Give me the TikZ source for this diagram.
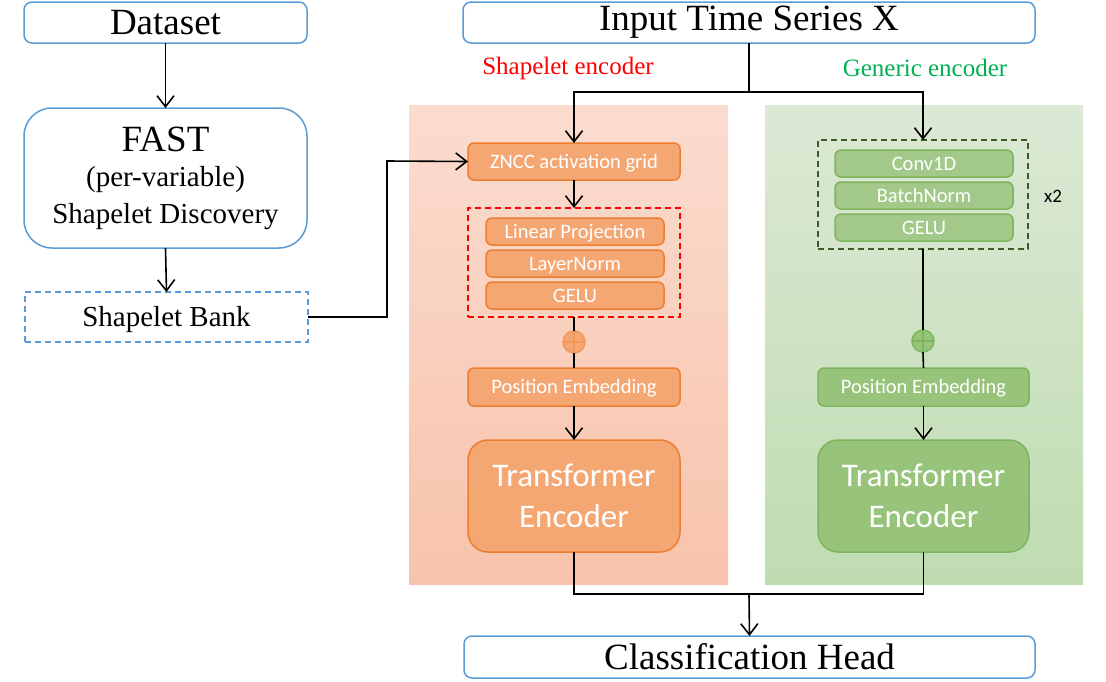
\documentclass[tikz,border=0pt]{standalone}
\usepackage{fontspec}
\setmainfont{Liberation Serif}
\newfontfamily\calib{Carlito}
\usetikzlibrary{arrows.meta}
\definecolor{bluebd}{HTML}{5B9BD5}
\definecolor{orfill}{HTML}{F4A773}
\definecolor{orbd}{HTML}{ED7D31}
\definecolor{orpanT}{HTML}{FADCCF}
\definecolor{orpanB}{HTML}{F8C3AC}
\definecolor{grpanT}{HTML}{DCE9D5}
\definecolor{grpanB}{HTML}{BFDCB1}
\definecolor{grfill}{HTML}{A2C98A}
\definecolor{grfillD}{HTML}{97C47A}
\definecolor{grbd}{HTML}{7DB65A}
\definecolor{grdash}{HTML}{3A5A2A}
\definecolor{grtxt}{HTML}{00B050}
\tikzset{
  bluebox/.style={draw=bluebd, line width=1.5pt, fill=white, rounded corners=8pt, inner sep=0pt, outer sep=0pt},
  orbox/.style={draw=orbd, line width=1.5pt, fill=orfill, rounded corners=6pt, inner sep=0pt, outer sep=0pt, text=white, font=\calib\fontsize{20.5}{22}\selectfont, text height=13.2pt, text depth=0pt},
  grbox/.style={draw=grbd, line width=1.5pt, fill=grfill, rounded corners=6pt, inner sep=0pt, outer sep=0pt, text=white, font=\calib\fontsize{20.5}{22}\selectfont, text height=13.2pt, text depth=0pt},
  bigtr/.style={text height=, text depth=, font=\calib\fontsize{33}{41}\selectfont, align=center},
  bigser/.style={font=\fontsize{37}{40}\selectfont},
  midser/.style={font=\fontsize{29}{32}\selectfont},
  arr/.style={line width=1.6pt, -{Straight Barb[length=11pt,width=17pt,line width=1.6pt]}},
  ln/.style={line width=1.6pt},
  dashbox/.style={line width=1.5pt, dash pattern=on 6pt off 4pt, inner sep=0pt, outer sep=0pt},
  plusc/.style={circle, minimum size=22pt, inner sep=0pt, outer sep=0pt, line width=1.5pt}
}
\begin{document}
\begin{tikzpicture}[x=1pt,y=-1pt]
\useasboundingbox (0,0) rectangle (1106,681);
% panels
\shade[top color=orpanT, bottom color=orpanB] (409,105) rectangle (728,584);
\shade[top color=grpanT, bottom color=grpanB] (765,105) rectangle (1083,584);
% left column
\node[bluebox, bigser, minimum width=283pt, minimum height=41pt] (ds) at (165.5,22.5) {Dataset};
\node[bluebox, rounded corners=28pt, minimum width=283pt, minimum height=140pt] (fast) at (165.5,178) {};
\node[anchor=base, inner sep=0pt, font=\fontsize{37}{40}\selectfont] (fastA) at (165.5,151) {FAST};
\node[anchor=base, inner sep=0pt, midser] (fastB) at (165.5,186) {(per-variable)};
\node[anchor=base, inner sep=0pt, midser] (fastC) at (165.5,223) {Shapelet Discovery};
\node[draw=bluebd, dashbox, fill=white, midser, text height=19pt, text depth=0pt, minimum width=283pt, minimum height=50pt] (bank) at (166.5,317) {Shapelet Bank};
% top / bottom
\node[bluebox, bigser, minimum width=572pt, minimum height=41pt] (inp) at (749,22.5) {Input Time Series X};
\node[bluebox, bigser, minimum width=571pt, minimum height=42pt] (cls) at (749.5,657) {Classification Head};
\node[text=red, font=\fontsize{25}{28}\selectfont] (lblS) at (568,68) {Shapelet encoder};
\node[text=grtxt, font=\fontsize{25}{28}\selectfont] (lblG) at (925,68) {Generic encoder};
% shapelet encoder
\node[orbox, minimum width=212pt, minimum height=37pt] (zncc) at (574,161.5) {ZNCC activation grid};
\node[draw=red, dashbox, minimum width=212pt, minimum height=109pt] (rbox) at (574,262.5) {};
\node[orbox, minimum width=178pt, minimum height=27pt] (lp) at (575,231.5) {Linear Projection};
\node[orbox, minimum width=178pt, minimum height=27pt] (lnorm) at (575,263.5) {LayerNorm};
\node[orbox, minimum width=178pt, minimum height=27pt] (gelu1) at (575,295.5) {GELU};
\node[orbox, minimum width=212pt, minimum height=38pt] (peO) at (574,387) {Position Embedding};
\node[orbox, bigtr, rounded corners=20pt, minimum width=212pt, minimum height=112pt] (trO) at (574,496) {Transformer\\Encoder};
% generic encoder
\node[draw=grdash, dashbox, minimum width=210pt, minimum height=109pt] (gbox) at (923,194.5) {};
\node[grbox, minimum width=178pt, minimum height=27pt] (conv) at (924,163.5) {Conv1D};
\node[grbox, minimum width=178pt, minimum height=27pt] (bn) at (924,195.5) {BatchNorm};
\node[grbox, minimum width=178pt, minimum height=27pt] (gelu2) at (924,227.5) {GELU};
\node[font=\calib\fontsize{19}{22}\selectfont] (x2) at (1053,196) {x2};
\node[grbox, fill=grfillD, minimum width=211pt, minimum height=38pt] (peG) at (923.5,387) {Position Embedding};
\node[grbox, bigtr, fill=grfillD, rounded corners=20pt, minimum width=211pt, minimum height=112pt] (trG) at (923.5,496) {Transformer\\Encoder};
% plus circles
\node[plusc, draw=orbd!80, fill=orfill] (plO) at (574,342) {};
\node[plusc, draw=grbd, fill=grfillD] (plG) at (923,341) {};
% coordinates
\coordinate (c1) at (387,161);
\coordinate (sp) at (749,92);
\coordinate (mg) at (749,594);
% connectors
\draw[arr] (ds.south) -- (fast.north);
\draw[arr] (fast.south) -- (bank.north);
\draw[arr] (bank.east) -| (c1) -- (zncc.west);
\draw[ln] (inp.south) -- (sp);
\draw[arr] (sp) -| (zncc.north);
\draw[arr] (sp) -| (gbox.north);
\draw[arr] (zncc.south) -- (rbox.north);
\draw[ln] (rbox.south) -- (plO.north);
\draw[ln] (plO.south) -- (peO.north);
\draw[arr] (peO.south) -- (trO.north);
\draw[ln] (gbox.south) -- (plG.north);
\draw[ln] (plG.south) -- (peG.north);
\draw[arr] (peG.south) -- (trG.north);
\draw[ln] (trO.south) |- (mg);
\draw[ln] (trG.south) |- (mg);
\draw[arr] (mg) -- (cls.north);
% plus signs
\draw[orbd!80, line width=1.5pt] (plO.west) -- (plO.east) (plO.north) -- (plO.south);
\draw[grbd, line width=1.5pt] (plG.west) -- (plG.east) (plG.north) -- (plG.south);
\end{tikzpicture}
\end{document}
